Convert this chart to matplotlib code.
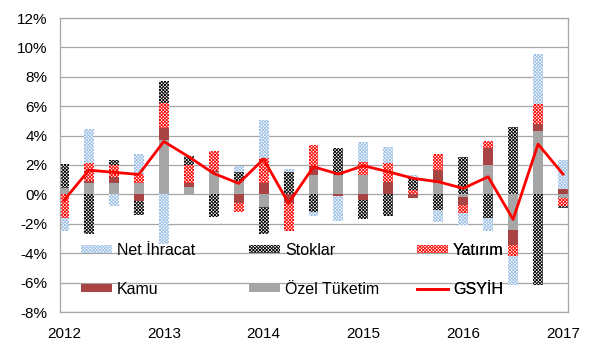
import numpy as np
import matplotlib
matplotlib.use("Agg")
import matplotlib.pyplot as plt
from matplotlib.ticker import FuncFormatter

plt.rcParams['font.family'] = ['Liberation Sans', 'DejaVu Sans']
plt.rcParams['hatch.linewidth'] = 0.6

# quarterly contributions to GDP growth, 2012Q1 .. 2017Q1 (percentage points)
years = ["2012", "2013", "2014", "2015", "2016", "2017"]
ozel = [0.45, 0.8, 0.8, 0.75, 3.7, 0.52, 1.54, 0.93, -0.84, 0.0, 1.32,
        1.32, 1.32, 0.0, 0.0, 0.75, -0.15, 2.0, -2.43, 4.33, -0.27]
kamu = [0.0, 0.14, 0.4, -0.43, 0.79, 0.23, 0.05, -0.6, 0.8, -0.6, 0.61,
        -0.1, -0.39, 0.86, -0.25, 0.9, -0.6, 1.13, -1.02, 0.45, 0.4]
yatirim = [-1.6, 1.18, 0.8, 0.63, 1.7, 1.25, 1.36, -0.57, 1.66, -1.86, 1.43,
           0.0, 0.9, 1.25, 0.3, 1.09, -0.5, 0.52, -0.75, 1.36, -0.52]
stoklar = [1.65, -2.7, 0.35, -0.98, 1.52, 0.63, -1.56, 0.6, -1.86, 1.54, -1.18,
           1.81, -1.25, -1.47, 0.8, -1.07, 2.56, -1.63, 4.56, -6.17, -0.16]
net = [-0.9, 2.3, -0.8, 1.36, -3.4, 0.0, 0.0, 0.38, 2.6, 0.17, -0.3,
       -1.68, 1.32, 1.09, 0.2, -0.8, -0.86, -0.84, -1.97, 3.4, 1.93]
gsyih = [-0.4, 1.65, 1.5, 1.36, 3.6, 2.56, 1.43, 0.75, 2.4, -0.6, 1.88,
         1.38, 1.95, 1.54, 1.09, 0.86, 0.41, 1.2, -1.7, 3.42, 1.38]

fig = plt.figure(figsize=(5.9, 3.54), dpi=100)
ax = fig.add_axes([60/590, 42/354, 508/590, 294/354])

x = np.arange(len(gsyih))
w = 0.4
pos = np.zeros(len(x))
neg = np.zeros(len(x))
# stacking order: first series sits next to zero
series = [
    ("Özel Tüketim", ozel, dict(color="#A6A6A6")),
    ("Kamu", kamu, dict(color="#A84444")),
    ("Yatırım", yatirim, dict(facecolor="#FFFFFF", edgecolor="#FF0000", hatch="x" * 10)),
    ("Stoklar", stoklar, dict(facecolor="#FFFFFF", edgecolor="#000000", hatch="x" * 10)),
    ("Net İhracat", net, dict(facecolor="#FFFFFF", edgecolor="#9DC0E6", hatch="x" * 10)),
]
handles = {}
for name, vals, style in series:
    v = np.array(vals)
    bottom = np.where(v >= 0, pos, neg)
    handles[name] = ax.bar(x, v, w, bottom=bottom, linewidth=0, zorder=2, label=name, **style)
    pos = pos + np.clip(v, 0, None)
    neg = neg + np.clip(v, None, 0)

line, = ax.plot(x, gsyih, color="#FF0000", lw=2, zorder=3, label="GSYİH")
handles["GSYİH"] = line

ax.set_xlim(-0.16, 20.2)
ax.set_ylim(-8, 12)
ax.set_yticks(np.arange(-8, 13, 2))
ax.yaxis.set_major_formatter(FuncFormatter(lambda v, p: "%d%%" % v))
ax.set_xticks(x[::4])
ax.set_xticklabels(years)
ax.tick_params(length=0, labelsize=11, colors="black")
ax.tick_params(axis="y", pad=9)
ax.tick_params(axis="x", pad=11)
ax.grid(axis="y", color="#A6A6A6", lw=0.9, zorder=0)
for s in ax.spines.values():
    s.set_color("#A6A6A6")
    s.set_linewidth(0.9)

# legend in three columns placed at fixed spots
cols = [(81, ["Net İhracat", "Kamu"]), (249, ["Stoklar", "Özel Tüketim"]), (417, ["Yatırım", "GSYİH"])]
for px, names in cols:
    leg = ax.legend([handles[n] for n in names], names, loc="center left",
                    bbox_to_anchor=(px/590, 1 - 270/354), bbox_transform=fig.transFigure,
                    frameon=False, borderpad=0, borderaxespad=0, fontsize=11.5,
                    handlelength=1.95, handleheight=0.42, handletextpad=0.3,
                    labelspacing=1.5)
    ax.add_artist(leg)

fig.savefig("out.png", dpi=100)
